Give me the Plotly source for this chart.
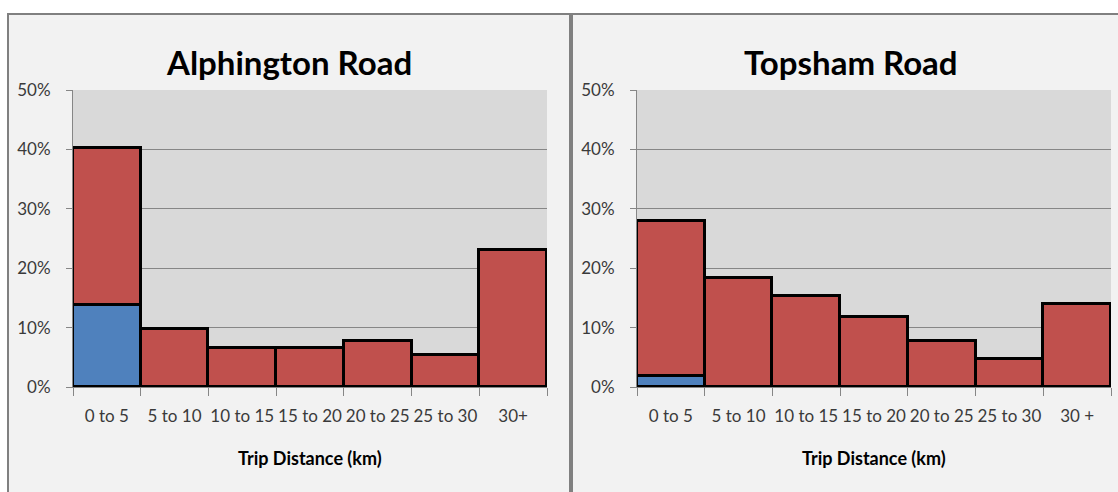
import plotly.graph_objects as go

categories_a = ["0 to 5", "5 to 10", "10 to 15", "15 to 20", "20 to 25", "25 to 30", "30+"]
categories_t = ["0 to 5", "5 to 10", "10 to 15", "15 to 20", "20 to 25", "25 to 30", "30 +"]

# share of trips (%) per distance band; the blue part of the first band is drawn separately
alphington_total = [40.3, 9.8, 6.6, 6.6, 7.8, 5.4, 23.0]
alphington_blue = [13.8, 0, 0, 0, 0, 0, 0]
topsham_total = [28.0, 18.4, 15.4, 11.8, 7.7, 4.7, 14.0]
topsham_blue = [1.9, 0, 0, 0, 0, 0, 0]

titles = ["Alphington Road", "Topsham Road"]
x_title = "Trip Distance (km)"
y_ticks = [0, 10, 20, 30, 40, 50]
y_tick_text = [f"{v}%" for v in y_ticks]

BLUE = "#4f81bd"
RED = "#c0504d"
GRID = "#868686"
TEXT = "#3a3a3a"
FONT = "Lato"

W, H = 1118, 492
dom_a = [73 / W, 547 / W]
dom_t = [637 / W, 1111 / W]
dom_y = [(H - 387) / H, (H - 90) / H]

fig = go.Figure()

for (cats, tot, blue, xa, ya) in [
    (categories_a, alphington_total, alphington_blue, "x", "y"),
    (categories_t, topsham_total, topsham_blue, "x2", "y2"),
]:
    red = [round(t - b, 2) for t, b in zip(tot, blue)]
    fig.add_trace(go.Bar(x=cats, y=blue, marker=dict(color=BLUE, line=dict(color="black", width=3)),
                         xaxis=xa, yaxis=ya, showlegend=False, hoverinfo="skip"))
    fig.add_trace(go.Bar(x=cats, y=red, marker=dict(color=RED, line=dict(color="black", width=3)),
                         xaxis=xa, yaxis=ya, showlegend=False, hoverinfo="skip"))

xaxis_common = dict(type="category", tickson="boundaries", ticks="outside", ticklen=8,
                    tickcolor=GRID, showline=True, linecolor=GRID, linewidth=1,
                    showgrid=False, tickangle=0, automargin=False,
                    tickfont=dict(family=FONT, size=17, color=TEXT),
                    ticklabelstandoff=14, fixedrange=True)
yaxis_common = dict(range=[0, 50], tickmode="array", tickvals=y_ticks, ticktext=y_tick_text,
                    ticks="outside", ticklen=6, automargin=False,
                    tickcolor=GRID, showline=True, linecolor=GRID, linewidth=1, showgrid=True,
                    gridcolor=GRID, gridwidth=1, zeroline=False,
                    tickfont=dict(family=FONT, size=17, color=TEXT), ticklabelstandoff=12,
                    fixedrange=True)

fig.update_layout(
    width=W, height=H,
    margin=dict(l=0, r=0, t=0, b=0),
    paper_bgcolor="white",
    plot_bgcolor="rgba(0,0,0,0)",
    barmode="stack", bargap=0,
    xaxis=dict(domain=dom_a, anchor="y", **xaxis_common),
    yaxis=dict(domain=dom_y, anchor="x", **yaxis_common),
    xaxis2=dict(domain=dom_t, anchor="y2", **xaxis_common),
    yaxis2=dict(domain=dom_y, anchor="x2", **yaxis_common),
)

# panel frames and plot-area backgrounds
panels = [(8, 570), (572, 1130)]
for x0, x1 in panels:
    fig.add_shape(type="rect", xref="paper", yref="paper", layer="below",
                  x0=x0 / W, x1=x1 / W, y0=-0.1, y1=(H - 14) / H,
                  fillcolor="#f2f2f2", line=dict(color="#808080", width=2))
for dom in (dom_a, dom_t):
    fig.add_shape(type="rect", xref="paper", yref="paper", layer="below",
                  x0=dom[0], x1=dom[1], y0=dom_y[0], y1=dom_y[1],
                  fillcolor="#d9d9d9", line=dict(width=0))

for (x0, x1), title in zip(panels, titles):
    fig.add_annotation(text="<b>" + title + "</b>", xref="paper", yref="paper",
                       x=(x0 + x1) / 2 / W, y=(H - 62) / H, xanchor="center", yanchor="middle",
                       showarrow=False, font=dict(family=FONT, size=33, color="black"))

for dom in (dom_a, dom_t):
    fig.add_annotation(text="<b>" + x_title + "</b>", xref="paper", yref="paper",
                       x=(dom[0] + dom[1]) / 2, y=(H - 458) / H, xanchor="center", yanchor="middle",
                       showarrow=False, font=dict(family=FONT, size=18, color="black"))

fig.write_html("out.html")
